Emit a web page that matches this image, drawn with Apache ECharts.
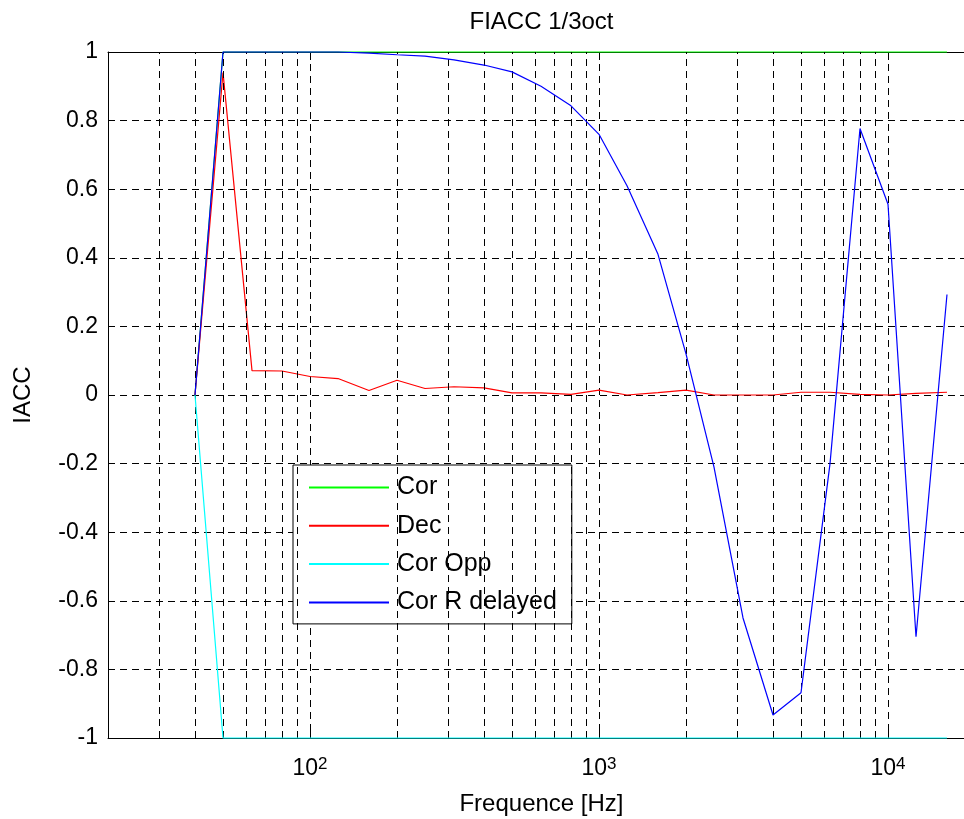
<!DOCTYPE html>
<html><head><meta charset="utf-8">
<script src="https://cdn.jsdelivr.net/npm/echarts@6.0.0/dist/echarts.min.js"></script>
<style>html,body{margin:0;padding:0;background:#fff}#c{width:964px;height:819px}</style>
</head><body><div id="c"></div>
<script>
// 1/3-octave band centre frequencies (Hz)
const freqs = [40,50,63,80,100,125,160,200,250,315,400,500,630,800,1000,1250,1600,2000,2500,3150,4000,5000,6300,8000,10000,12500,16000];
const cor = [0,1,1,1,1,1,1,1,1,1,1,1,1,1,1,1,1,1,1,1,1,1,1,1,1,1,1];
const dec = [0,0.94,0.071,0.07,0.054,0.048,0.013,0.043,0.019,0.024,0.021,0.006,0.006,0.002,0.014,0,0.007,0.014,0,0,0,0.008,0.008,0.002,0,0.005,0.008];
const corOpp = [0,-1,-1,-1,-1,-1,-1,-1,-1,-1,-1,-1,-1,-1,-1,-1,-1,-1,-1,-1,-1,-1,-1,-1,-1,-1,-1];
const corRDelayed = [0,1,1,1,1,1,0.997,0.992,0.988,0.977,0.962,0.942,0.9,0.843,0.76,0.61,0.41,0.12,-0.21,-0.65,-0.933,-0.868,-0.2,0.777,0.556,-0.705,0.293];
const seriesNames = ['Cor','Dec','Cor Opp','Cor R delayed'];
const seriesColors = ['#00ff00','#ff0000','#00ffff','#0000ff'];
const minorGrid = [30,40,50,60,70,80,90,200,300,400,500,600,700,800,900,2000,3000,4000,5000,6000,7000,8000,9000];
const xMin = 20, xMax = 20000, yMin = -1, yMax = 1, yStep = 0.2;

const FONT = "'Liberation Sans', Arial, sans-serif";
const chart = echarts.init(document.getElementById('c'), null, {renderer:'canvas'});
const allData = [cor, dec, corOpp, corRDelayed];
const dash = [7,5];

const series = [{
  name: '', type: 'line', data: [], z: 1, silent: true,
  markLine: {
    silent: true, symbol: ['none','none'], label: {show:false}, animation: false,
    lineStyle: {color:'#000', type: dash, width: 1},
    emphasis: {disabled: true},
    data: minorGrid.map(v => ({xAxis: v}))
  }
}];
allData.forEach((arr, i) => {
  series.push({
    name: seriesNames[i], type: 'line', symbol: 'none', z: 3 + i,
    color: seriesColors[i], clip: false,
    lineStyle: {color: seriesColors[i], width: 1.2},
    emphasis: {disabled: true},
    data: freqs.map((f, j) => [f, arr[j]])
  });
});

const logFmt = v => {
  const l = Math.log10(v), e = Math.round(l);
  if (Math.abs(l - e) > 1e-6) return '';
  return '{b|10}{s|' + e + '}';
};

chart.setOption({
  animation: false,
  backgroundColor: '#fff',
  textStyle: {fontFamily: FONT},
  grid: {left: 108, top: 52, width: 867, height: 686, outerBoundsMode: 'none', containLabel: false},
  graphic: [{
    type: 'text', x: 541.5, y: 22,
    style: {text: 'FIACC 1/3oct', fontSize: 24, fontFamily: FONT, fill: '#000', textAlign: 'center', textVerticalAlign: 'middle'}
  }],
  legend: {
    data: seriesNames, orient: 'vertical', left: 293, top: 465,
    icon: 'rect', itemWidth: 80, itemHeight: 2, itemGap: 13.3,
    padding: [10, 15, 9, 16],
    backgroundColor: '#fff', borderColor: '#000', borderWidth: 1, borderRadius: 0,
    textStyle: {fontSize: 25, fontFamily: FONT, color: '#000', lineHeight: 24, padding: [0,0,0,3]},
    selectedMode: false
  },
  xAxis: [{
    type: 'log', logBase: 10, min: xMin, max: xMax,
    name: 'Frequence [Hz]', nameLocation: 'middle', nameGap: 54,
    nameTextStyle: {fontSize: 24, fontFamily: FONT, color: '#000'},
    axisLine: {show: true, onZero: false, lineStyle: {color: '#000', width: 1}},
    axisTick: {show: true, inside: true, length: 8, lineStyle: {color:'#000'}},
    axisLabel: {
      show: true, margin: 18, showMinLabel: false, showMaxLabel: false,
      formatter: logFmt, color: '#000',
      rich: {
        b: {fontSize: 23, fontFamily: FONT, color: '#000', lineHeight: 24, padding: [13,0,0,0], verticalAlign: 'bottom'},
        s: {fontSize: 17, fontFamily: FONT, color: '#000', lineHeight: 18, verticalAlign: 'top'}
      }
    },
    splitLine: {show: true, lineStyle: {color: '#000', type: dash, width: 1}},
    minorTick: {show: false}
  }, {
    type: 'log', logBase: 10, min: xMin, max: xMax, position: 'top',
    axisLine: {show: true, onZero: false, lineStyle: {color: '#000', width: 1}},
    axisTick: {show: true, inside: true, length: 8, lineStyle: {color:'#000'}},
    axisLabel: {show: false}, splitLine: {show: false}
  }],
  yAxis: [{
    type: 'value', min: yMin, max: yMax, interval: yStep,
    name: 'IACC', nameLocation: 'middle', nameGap: 73, nameRotate: 90,
    nameTextStyle: {fontSize: 24, fontFamily: FONT, color: '#000'},
    axisLine: {show: true, onZero: false, lineStyle: {color: '#000', width: 1}},
    axisTick: {show: true, inside: true, length: 6, lineStyle: {color:'#000'}},
    axisLabel: {fontSize: 23, fontFamily: FONT, color: '#000', margin: 10},
    splitLine: {show: true, lineStyle: {color: '#000', type: dash, width: 1}}
  }],
  series: series
});
</script></body></html>
